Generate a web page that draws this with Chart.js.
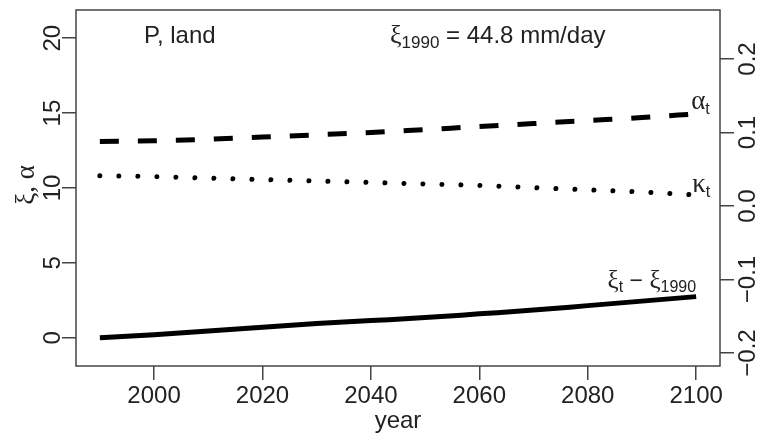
<!DOCTYPE html>
<html lang="en">
<head>
  <meta charset="UTF-8" />
  <title>P, land</title>
  <style>
    body { margin: 0; background: #fff; }
    #chart { display: block; }
  </style>
</head>
<body>
  <canvas id="chart" width="764" height="437"></canvas>
  <script src="https://cdn.jsdelivr.net/npm/chart.js"></script>
  <script>
    // values
    const years = [1990, 2000, 2010, 2020, 2030, 2040, 2050, 2060, 2070, 2080, 2090, 2100];
    const xiVals = [0, 0.2, 0.45, 0.7, 0.95, 1.15, 1.35, 1.6, 1.85, 2.15, 2.45, 2.75];
    const alphaVals = [13.1, 13.15, 13.25, 13.4, 13.55, 13.7, 13.9, 14.1, 14.3, 14.5, 14.7, 14.95];
    const kappaVals = [0.041, 0.040, 0.038, 0.036, 0.034, 0.032, 0.030, 0.028, 0.025, 0.022, 0.019, 0.015];

    const xTicks = [2000, 2020, 2040, 2060, 2080, 2100];
    const leftTicks = [0, 5, 10, 15, 20];
    const rightTicks = [-0.2, -0.1, 0.0, 0.1, 0.2];
    const rightTickLabels = ['\u22120.2', '\u22120.1', '0.0', '0.1', '0.2'];

    const SANS = '"Liberation Sans", Arial, sans-serif';
    const SERIF = '"Liberation Serif", "DejaVu Serif", serif';
    const INK = '#444';

    function pts(vals) {
      return years.map((y, i) => ({ x: y, y: vals[i] }));
    }

    // draws a run of text pieces: [text, font, baseline shift]
    function rich(ctx, x, y, parts, align) {
      let w = 0;
      parts.forEach(p => { ctx.font = p[1]; w += ctx.measureText(p[0]).width; });
      let cx = align === 'right' ? x - w : x;
      ctx.textAlign = 'left';
      ctx.textBaseline = 'alphabetic';
      parts.forEach(p => {
        ctx.font = p[1];
        ctx.fillText(p[0], cx, y + (p[2] || 0));
        cx += ctx.measureText(p[0]).width;
      });
    }

    const decor = {
      id: 'decor',
      afterDraw(chart) {
        const ctx = chart.ctx;
        const a = chart.chartArea;
        const sx = chart.scales.x, sy = chart.scales.y, sr = chart.scales.yR;
        ctx.save();

        // box
        ctx.strokeStyle = INK;
        ctx.lineWidth = 1.5;
        ctx.strokeRect(a.left, a.top, a.right - a.left, a.bottom - a.top);

        ctx.fillStyle = '#222';
        ctx.font = '24px ' + SANS;

        // x tick labels
        ctx.textAlign = 'center';
        ctx.textBaseline = 'alphabetic';
        xTicks.forEach(v => ctx.fillText(String(v), sx.getPixelForValue(v), 403));
        ctx.fillText('year', (a.left + a.right) / 2, 428);

        // left tick labels, rotated
        leftTicks.forEach(v => {
          ctx.save();
          ctx.translate(60, sy.getPixelForValue(v));
          ctx.rotate(-Math.PI / 2);
          ctx.fillText(String(v), 0, 0);
          ctx.restore();
        });
        // right tick labels, rotated
        rightTicks.forEach((v, i) => {
          ctx.save();
          ctx.translate(755, sr.getPixelForValue(v));
          ctx.rotate(-Math.PI / 2);
          ctx.fillText(rightTickLabels[i], 0, 0);
          ctx.restore();
        });

        // axis titles
        ctx.save();
        ctx.translate(34, 185);
        ctx.rotate(-Math.PI / 2);
        ctx.font = '27px ' + SERIF;
        ctx.textAlign = 'center';
        ctx.fillText('\u03be, \u03b1', 0, 0);
        ctx.restore();

        // right title sits mostly past the edge, as in the source
        ctx.save();
        ctx.translate(777, 205);
        ctx.rotate(-Math.PI / 2);
        ctx.font = '27px ' + SERIF;
        ctx.textAlign = 'center';
        ctx.fillText('\u03ba', 0, 0);
        ctx.restore();

        // annotations
        rich(ctx, 144, 43, [['P, land', '24px ' + SANS, 0]]);
        rich(ctx, 390, 43, [
          ['\u03be', '26px ' + SERIF, 0],
          ['1990', '17px ' + SANS, 5],
          [' = 44.8 mm/day', '24px ' + SANS, 0]
        ]);

        const last = years.length - 1;
        const xe = sx.getPixelForValue(years[last]);
        rich(ctx, xe - 5, sy.getPixelForValue(alphaVals[last]) - 5, [
          ['\u03b1', '27px ' + SERIF, 0],
          ['t', '16px ' + SANS, 5]
        ]);
        rich(ctx, xe - 4, sr.getPixelForValue(kappaVals[last]) - 3, [
          ['\u03ba', '27px ' + SERIF, 0],
          ['t', '16px ' + SANS, 5]
        ]);
        rich(ctx, xe, sy.getPixelForValue(xiVals[last]) - 9, [
          ['\u03be', '25px ' + SERIF, 0],
          ['t', '16px ' + SANS, 4],
          [' \u2212 ', '23px ' + SANS, 0],
          ['\u03be', '25px ' + SERIF, 0],
          ['1990', '16px ' + SANS, 4]
        ], 'right');

        ctx.restore();
      }
    };

    const tickGrid = {
      display: true,
      drawOnChartArea: false,
      drawTicks: true,
      tickLength: 14,
      color: INK,
      lineWidth: 1.5
    };

    new Chart(document.getElementById('chart').getContext('2d'), {
      type: 'line',
      data: {
        datasets: [
          {
            label: 'xi',
            data: pts(xiVals),
            yAxisID: 'y',
            borderColor: '#000',
            borderWidth: 5,
            pointRadius: 0,
            cubicInterpolationMode: 'monotone'
          },
          {
            label: 'alpha',
            data: pts(alphaVals),
            yAxisID: 'y',
            borderColor: '#000',
            borderWidth: 5,
            borderDash: [19, 19],
            pointRadius: 0,
            cubicInterpolationMode: 'monotone'
          },
          {
            label: 'kappa',
            data: pts(kappaVals),
            yAxisID: 'yR',
            borderColor: '#000',
            borderWidth: 5,
            borderDash: [0.01, 19],
            borderCapStyle: 'round',
            pointRadius: 0,
            cubicInterpolationMode: 'monotone'
          }
        ]
      },
      options: {
        responsive: false,
        animation: false,
        layout: { padding: { top: 10, left: 0, right: 0, bottom: 0 } },
        plugins: { legend: { display: false }, tooltip: { enabled: false } },
        scales: {
          x: {
            type: 'linear',
            min: 1985.6,
            max: 2104.4,
            grid: tickGrid,
            border: { display: false },
            ticks: { display: false },
            afterBuildTicks: s => { s.ticks = xTicks.map(v => ({ value: v })); },
            afterFit: s => { s.height = 71; }
          },
          y: {
            position: 'left',
            min: -1.88,
            max: 21.88,
            grid: tickGrid,
            border: { display: false },
            ticks: { display: false },
            afterBuildTicks: s => { s.ticks = leftTicks.map(v => ({ value: v })); },
            afterFit: s => { s.width = 76; }
          },
          yR: {
            position: 'right',
            min: -0.2177,
            max: 0.2667,
            grid: tickGrid,
            border: { display: false },
            ticks: { display: false },
            afterBuildTicks: s => { s.ticks = rightTicks.map(v => ({ value: v })); },
            afterFit: s => { s.width = 44; }
          }
        }
      },
      plugins: [decor]
    });
  </script>
</body>
</html>
